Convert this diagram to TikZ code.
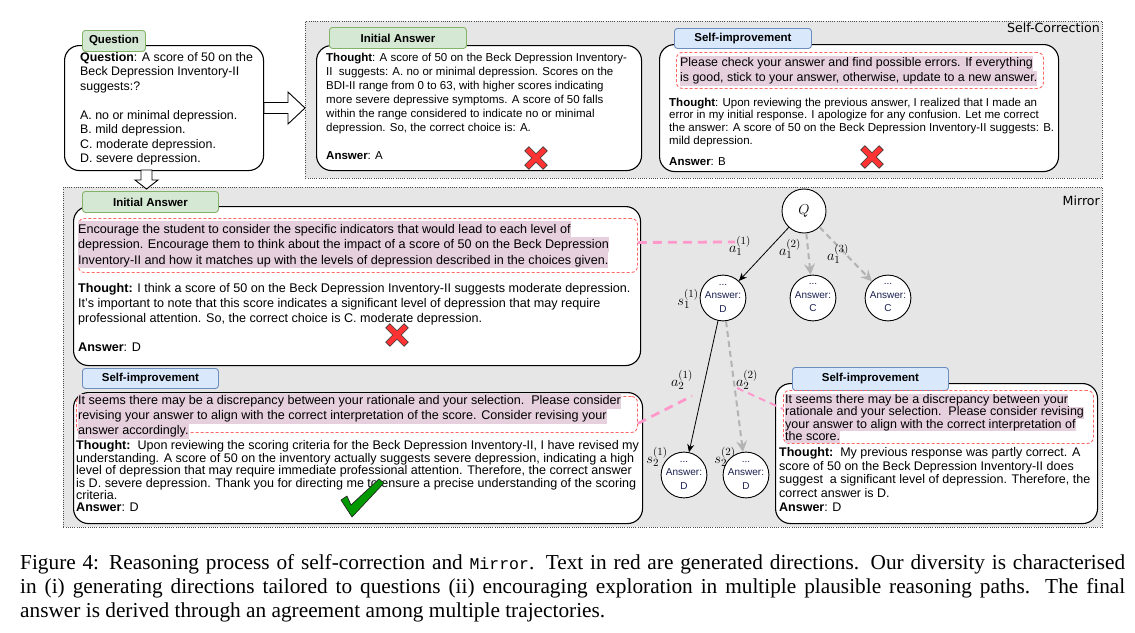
\documentclass[tikz,border=0pt]{standalone}
\usepackage{fontspec}
\setmainfont{Liberation Sans}
\newfontfamily\capserif{Liberation Serif}
\newfontfamily\capmono{Liberation Mono}
\newfontfamily\titlefont{DejaVu Sans}
\usetikzlibrary{arrows.meta}
\definecolor{panelgrey}{HTML}{E6E6E6}
\definecolor{tabgreen}{HTML}{D5E8D4}
\definecolor{tabgreenb}{HTML}{82B366}
\definecolor{tabblue}{HTML}{DAE8FC}
\definecolor{tabblueb}{HTML}{6C8EBF}
\definecolor{hlpink}{HTML}{E6D0DE}
\definecolor{reddash}{HTML}{FF6666}
\definecolor{pinkline}{HTML}{FF99CC}
\definecolor{greyarrow}{HTML}{B3B3B3}
\definecolor{crossred}{HTML}{FF3333}
\definecolor{tickgreen}{HTML}{009900}
\definecolor{navytext}{HTML}{1A2050}
\setlength{\fboxsep}{0pt}
\newcommand{\fsz}[2]{\fontsize{#1}{#2}\selectfont}
\newcommand{\hlx}[1]{\colorbox{hlpink}{\rule[-0.25\baselineskip]{0pt}{\baselineskip}#1}}
\newcommand{\boxat}[7]{\node[#2, minimum width={#5-#3}, minimum height={#6-#4}, anchor=north west, inner sep=0pt] (#1) at (#3,#4) {#7};}
\newcommand{\redcross}[2]{\filldraw[crossstyle, shift={(#1,#2)}, rotate=45] (3,3)--(3,13)--(-3,13)--(-3,3)--(-13,3)--(-13,-3)--(-3,-3)--(-3,-13)--(3,-13)--(3,-3)--(13,-3)--(13,3)--cycle;}
\tikzset{
  panel/.style={draw=black!70, dash pattern=on 1pt off 1.2pt, line width=0.9pt, fill=panelgrey},
  paneltitle/.style={inner sep=0pt, font=\titlefont\fsz{12.6}{14}},
  bubble/.style={draw=black, line width=1.1pt, fill=white, rounded corners=15pt},
  tabg/.style={draw=tabgreenb, fill=tabgreen, line width=0.9pt, rounded corners=3pt, font=\bfseries\fsz{11.5}{13}},
  tabb/.style={draw=tabblueb, fill=tabblue, line width=0.9pt, rounded corners=3pt, font=\bfseries\fsz{11.5}{13}},
  hlbox/.style={draw=reddash, dash pattern=on 3pt off 2pt, line width=0.9pt, rounded corners=6pt},
  txt/.style={anchor=north west, inner sep=0pt, align=left},
  blockarrow/.style={draw=black, fill=white, line width=0.9pt, line join=miter},
  crossstyle/.style={fill=crossred, draw=black!80, line width=0.6pt},
  tickstyle/.style={fill=tickgreen, draw=black!85, line width=0.7pt, line join=round},
  qcirc/.style={circle, draw=black, line width=0.9pt, fill=white, minimum size=44pt, inner sep=0pt, font=\fsz{15}{17}},
  anscirc/.style={circle, draw=black, line width=0.9pt, fill=white, minimum size=43pt, inner sep=0pt, align=center, font=\fsz{10}{13.5}, text=navytext},
  treeedge/.style={draw=black, line width=0.8pt, -{Stealth[length=8pt,width=7pt]}},
  greyedge/.style={draw=greyarrow, line width=2pt, dash pattern=on 6pt off 4pt, -{Stealth[length=11pt,width=11pt,inset=4pt]}},
  mathlab/.style={inner sep=0pt, font=\fsz{15}{17}},
  pinkdash/.style={draw=pinkline, line width=2.8pt, dash pattern=on 9pt off 6pt},
  capline/.style={anchor=base west, inner sep=0pt, font=\capserif\fsz{21.3}{24}}
}
\begin{document}
\begin{tikzpicture}[x=1pt,y=-1pt]
\useasboundingbox (0,0) rectangle (1135,632);
\fill[white] (0,0) rectangle (1135,632);

% panels
\boxat{scpanel}{panel}{305}{21}{1102}{178}{}
\boxat{mpanel}{panel}{63}{187}{1102}{527}{}
\node[paneltitle, anchor=north east] (sclab) at (1100,23) {Self-Correction};
\node[paneltitle, anchor=north east] (mlab) at (1100,196) {Mirror};

% question
\boxat{qbox}{bubble}{64}{45}{263}{170}{}
\boxat{qtab}{tabg}{82}{30}{145}{51}{Question}
\node[txt, font=\fsz{12.4}{14.5}] (qtxt) at (80,52) {\textbf{Question}: A score of 50 on the\\Beck Depression Inventory-II\\suggests:?\\[14.5pt]A. no or minimal depression.\\B. mild depression.\\C. moderate depression.\\D. severe depression.};

% block arrows
\filldraw[blockarrow] (264,102.5) -- (288,102.5) -- (288,92) -- (305,108) -- (288,124) -- (288,113.5) -- (264,113.5) -- cycle;
\filldraw[blockarrow] (141,170) -- (152,170) -- (152,180) -- (158,180) -- (146.5,189) -- (135,180) -- (141,180) -- cycle;

% top initial answer
\boxat{iatop}{bubble}{316}{45}{641}{170}{}
\boxat{iatoptab}{tabg}{329}{27}{466}{48}{Initial Answer}
\node[txt, font=\fsz{11.5}{14}] (iatoptxt) at (326,53) {\textbf{Thought}: A score of 50 on the Beck Depression Inventory-\\II\ \ suggests: A. no or minimal depression. Scores on the\\BDI-II range from 0 to 63, with higher scores indicating\\more severe depressive symptoms. A score of 50 falls\\within the range considered to indicate no or minimal\\depression. So, the correct choice is: A.\\[14pt]\textbf{Answer}: A};
\redcross{536}{158}

% top self-improvement
\boxat{sitop}{bubble}{659}{44}{1058}{171}{}
\boxat{sitoptab}{tabb}{674}{28}{811}{48}{Self-improvement}
\boxat{dsc}{hlbox}{676}{52}{1043}{88}{}
\node[txt, font=\fsz{12.4}{15}] (sitophl) at (680,55.5) {\hlx{Please check your answer and find possible errors. If everything}\\\hlx{is good, stick to your answer, otherwise, update to a new answer.}};
\node[txt, font=\fsz{11.5}{12.7}] (sitoptxt) at (669,97.5) {\textbf{Thought}: Upon reviewing the previous answer, I realized that I made an\\error in my initial response. I apologize for any confusion. Let me correct\\the answer: A score of 50 on the Beck Depression Inventory-II suggests: B.\\mild depression.\\[9pt]\textbf{Answer}: B};
\redcross{872}{157}

% mirror initial answer
\boxat{iam}{bubble}{73}{206}{640}{365}{}
\boxat{iamtab}{tabg}{82}{191}{218}{212}{Initial Answer}
\boxat{dia}{hlbox}{78}{218}{637}{272}{}
\node[txt, font=\fsz{12.6}{15.5}] (iamhl) at (78,221.25) {\hlx{Encourage the student to consider the specific indicators that would lead to each level of}\\\hlx{depression. Encourage them to think about the impact of a score of 50 on the Beck Depression}\\\hlx{Inventory-II and how it matches up with the levels of depression described in the choices given.}};
\node[txt, font=\fsz{12.6}{15}] (iamtxt) at (78,283.5) {\textbf{Thought:} I think a score of 50 on the Beck Depression Inventory-II suggests moderate depression.\\It's important to note that this score indicates a significant level of depression that may require\\professional attention. So, the correct choice is C. moderate depression.\\[14pt]\textbf{Answer}: D};
\redcross{397}{335}

% left self-improvement
\boxat{sil}{bubble}{73}{392}{642}{523}{}
\boxat{siltab}{tabb}{82}{368}{218}{388}{Self-improvement}
\boxat{dls}{hlbox}{76}{396}{637}{432}{}
\node[txt, font=\fsz{12.6}{15}] (silhl) at (78,393.5) {\hlx{It seems there may be a discrepancy between your rationale and your selection.\ \ Please consider}\\\hlx{revising your answer to align with the correct interpretation of the score. Consider revising your}\\\hlx{answer accordingly.}};
\node[txt, font=\fsz{12.55}{12.4}] (siltxt) at (76,440.5) {\textbf{Thought:}\ \ Upon reviewing the scoring criteria for the Beck Depression Inventory-II, I have revised my\\understanding. A score of 50 on the inventory actually suggests severe depression, indicating a high\\level of depression that may require immediate professional attention. Therefore, the correct answer\\is D. severe depression. Thank you for directing me to ensure a precise understanding of the scoring\\criteria.\\\textbf{Answer}: D};
\filldraw[tickstyle] (341,500) -- (347,496) -- (351,505) -- (379,479) -- (384,483) -- (352,517) -- cycle;

% right self-improvement
\boxat{sir}{bubble}{775}{383}{1097}{523}{}
\boxat{sirtab}{tabb}{792}{367}{948}{390}{Self-improvement}
\boxat{drs}{hlbox}{783}{390}{1093}{443}{}
\node[txt, font=\fsz{12.5}{12.3}] (sirhl) at (785,394) {\hlx{It seems there may be a discrepancy between your}\\\hlx{rationale and your selection.\ \ Please consider revising}\\\hlx{your answer to align with the correct interpretation of}\\\hlx{the score.}};
\node[txt, font=\fsz{12.5}{13.6}] (sirtxt) at (779,447.5) {\textbf{Thought:}\ \ My previous response was partly correct. A\\score of 50 on the Beck Depression Inventory-II does\\suggest\ \ a significant level of depression. Therefore, the\\correct answer is D.\\\textbf{Answer}: D};

% tree
\node[qcirc] (q) at (804,211) {$Q$};
\node[anscirc] (s11) at (723,298) {...\\Answer:\\D};
\node[anscirc] (s12) at (813,298) {...\\Answer:\\C};
\node[anscirc] (s13) at (888,298) {...\\Answer:\\C};
\node[anscirc] (s21) at (684,475) {...\\Answer:\\D};
\node[anscirc] (s22) at (746,475) {...\\Answer:\\D};
\draw[treeedge] (q) -- (s11);
\draw[greyedge] (q) -- (s12);
\draw[greyedge] (q) -- (s13);
\draw[treeedge] (s11) -- (s21);
\draw[greyedge] (s11) -- (s22);
\node[mathlab] (la11) at (740,246) {$a_1^{(1)}$};
\node[mathlab] (la12) at (790,249) {$a_1^{(2)}$};
\node[mathlab] (la13) at (838,254) {$a_1^{(3)}$};
\node[mathlab] (ls11) at (688,299) {$s_1^{(1)}$};
\node[mathlab] (la21) at (682,380) {$a_2^{(1)}$};
\node[mathlab] (la22) at (747,380) {$a_2^{(2)}$};
\node[mathlab] (ls21) at (657,457) {$s_2^{(1)}$};
\node[mathlab] (ls22) at (725,457) {$s_2^{(2)}$};

% pink connectors
\coordinate (pk1) at (735,242);
\coordinate (pk2) at (692,396);
\coordinate (pk3) at (737,388);
\draw[pinkdash] ([yshift=3pt]dia.east) -- (pk1);
\draw[pinkdash] ([yshift=-9pt]dls.east) -- (pk2);
\draw[pinkdash, line width=2pt, dash pattern=on 7pt off 5pt] (pk3) -- ([yshift=8pt]drs.west);

% caption
\node[capline] (cap1) at (20,569) {\makebox[1105pt][s]{Figure 4: Reasoning process of self-correction and {\capmono\fontsize{16.5}{24}\selectfont Mirror}. Text in red are generated directions. Our diversity is characterised}};
\node[capline] (cap2) at (20,593) {\makebox[1105pt][s]{in (i) generating directions tailored to questions (ii) encouraging exploration in multiple plausible reasoning paths. The final}};
\node[capline] (cap3) at (20,617) {answer is derived through an agreement among multiple trajectories.};
\end{tikzpicture}
\end{document}
